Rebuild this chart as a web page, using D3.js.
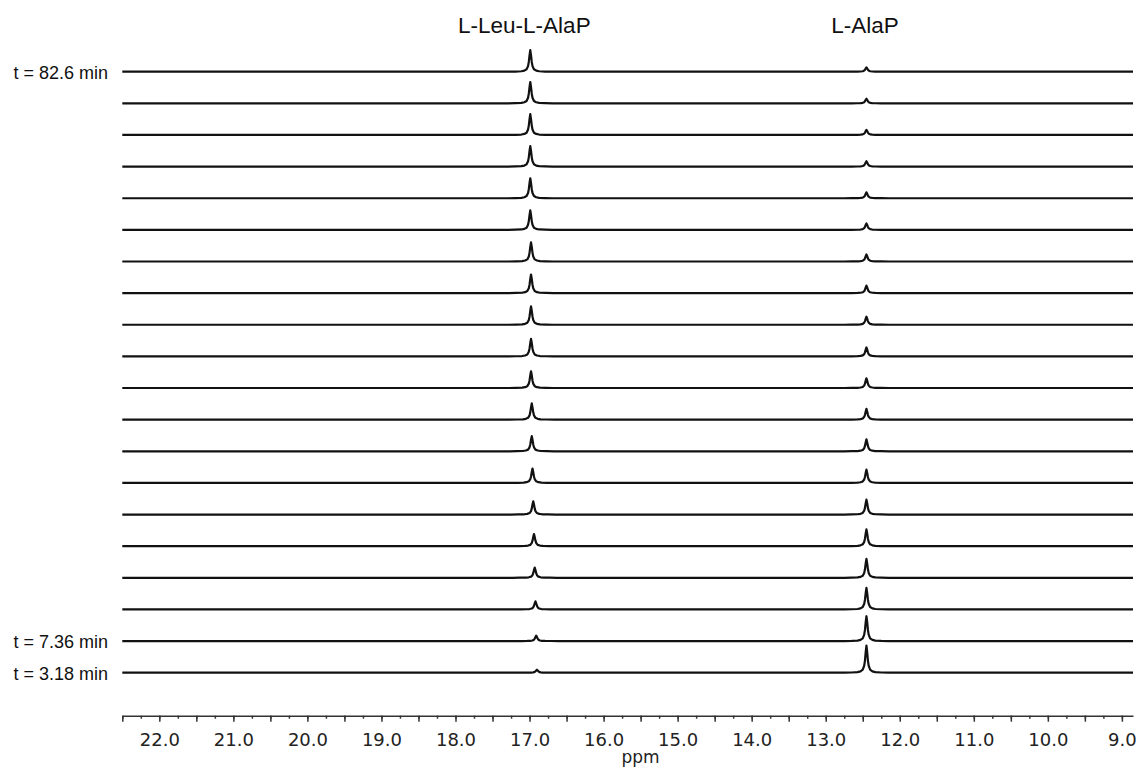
<!DOCTYPE html>
<html>
<head>
<meta charset="utf-8">
<script src="https://cdn.jsdelivr.net/npm/d3@7"></script>
<style>
  body { margin: 0; background: #fff; }
  svg { display: block; }
</style>
</head>
<body>
<svg id="nmr" width="1139" height="769"></svg>
<script>
"use strict";

// spectra, top trace (latest) first
var timeLabels = ['t = 82.6 min', '', '', '', '', '', '', '', '', '', '',
  '', '', '', '', '', '', '', 't = 7.36 min', 't = 3.18 min'];
var leuPos = [16.99, 16.99, 16.99, 16.99, 16.99, 16.99, 16.98, 16.98, 16.98, 16.98,
  16.98, 16.97, 16.97, 16.96, 16.95, 16.94, 16.93, 16.92, 16.91, 16.90];
var leuHeight = [0.80, 0.79, 0.77, 0.76, 0.74, 0.72, 0.71, 0.69, 0.68, 0.65,
  0.62, 0.60, 0.56, 0.53, 0.49, 0.45, 0.38, 0.30, 0.20, 0.11];
var alaPos = [12.45, 12.45, 12.45, 12.45, 12.45, 12.45, 12.45, 12.45, 12.45, 12.45,
  12.45, 12.45, 12.45, 12.45, 12.45, 12.45, 12.45, 12.45, 12.45, 12.45];
var alaHeight = [0.16, 0.17, 0.19, 0.20, 0.22, 0.24, 0.26, 0.28, 0.30, 0.33,
  0.36, 0.40, 0.44, 0.49, 0.55, 0.62, 0.70, 0.80, 0.92, 1.00];
// peak profile: offset from centre (ppm), relative height
var peakOffset = [0.30, 0.20, 0.12, 0.08, 0.05, 0.03, 0.02, 0.01, 0];
var peakShape = [0, 0.008, 0.02, 0.05, 0.11, 0.26, 0.45, 0.76, 1];
var compounds = [
  { name: 'L-Leu-L-AlaP', ppm: 17.07 },
  { name: 'L-AlaP', ppm: 12.47 }
];
var ppmRange = [22.5, 8.85];

function peakPoints(center, h) {
  var pts = [];
  peakOffset.forEach(function (o, i) { pts.push([center + o, h * peakShape[i]]); });
  for (var i = peakOffset.length - 2; i >= 0; i--) {
    pts.push([center - peakOffset[i], h * peakShape[i]]);
  }
  return pts;
}

function make_plot(svg) {
  var x = d3.scaleLinear().domain(ppmRange).range([122.3, 1133]);
  var yTrace = d3.scalePoint().domain(d3.range(timeLabels.length)).range([71.7, 672.7]);
  var amp = d3.scaleLinear().domain([0, 1]).range([0, 27]);

  var traces = timeLabels.map(function (lab, i) {
    var pts = [[ppmRange[0], 0]]
      .concat(peakPoints(leuPos[i], leuHeight[i]))
      .concat(peakPoints(alaPos[i], alaHeight[i]))
      .concat([[ppmRange[1], 0]]);
    return { i: i, label: lab, pts: pts };
  });

  var g = svg.append('g');
  traces.forEach(function (t) {
    var line = d3.line()
      .x(function (d) { return x(d[0]); })
      .y(function (d) { return yTrace(t.i) - amp(d[1]); });
    g.append('path')
      .attr('d', line(t.pts))
      .attr('fill', 'none')
      .attr('stroke', '#111')
      .attr('stroke-width', 2.2)
      .attr('stroke-linejoin', 'round');
    if (t.label) {
      g.append('text')
        .attr('x', 108)
        .attr('y', yTrace(t.i) + 7)
        .attr('text-anchor', 'end')
        .attr('font-family', 'Liberation Sans, Arial, sans-serif')
        .attr('font-size', 18)
        .attr('fill', '#111')
        .text(t.label);
    }
  });

  svg.selectAll('.cmp')
    .data(compounds)
    .enter().append('text')
    .attr('class', 'cmp')
    .attr('x', function (d) { return x(d.ppm); })
    .attr('y', 33)
    .attr('text-anchor', 'middle')
    .attr('font-family', 'Liberation Sans, Arial, sans-serif')
    .attr('font-size', 22.5)
    .attr('fill', '#111')
    .text(function (d) { return d.name; });

  // axis: short ticks every 0.25, longer every 0.5, labels on integers
  var minorTicks = d3.range(0, 55).map(function (k) { return 22.5 - k * 0.25; });
  var majorTicks = d3.range(0, 28).map(function (k) { return 22.5 - k * 0.5; });
  var axisY = 715.7;

  svg.append('g')
    .attr('transform', 'translate(0,' + axisY + ')')
    .call(d3.axisBottom(x).tickValues(minorTicks).tickSize(3).tickSizeOuter(0).tickFormat(''))
    .call(function (a) { a.select('.domain').remove(); })
    .selectAll('line').attr('stroke', '#333').attr('stroke-width', 1.5);

  var ax = svg.append('g')
    .attr('transform', 'translate(0,' + axisY + ')')
    .call(d3.axisBottom(x).tickValues(majorTicks).tickSize(6).tickSizeOuter(0).tickPadding(12)
      .tickFormat(function (d) { return Number.isInteger(d) ? d.toFixed(1) : ''; }));
  ax.select('.domain').attr('stroke', '#333').attr('stroke-width', 1.6);
  ax.selectAll('line').attr('stroke', '#333').attr('stroke-width', 1.5);
  ax.selectAll('text')
    .attr('font-family', 'DejaVu Sans, sans-serif')
    .attr('font-size', 18)
    .attr('fill', '#222');

  svg.append('text')
    .attr('x', x(15.5))
    .attr('y', 763)
    .attr('text-anchor', 'middle')
    .attr('font-family', 'DejaVu Sans, sans-serif')
    .attr('font-size', 17)
    .attr('fill', '#222')
    .text('ppm');
}

make_plot(d3.select('#nmr'));
</script>
</body>
</html>
